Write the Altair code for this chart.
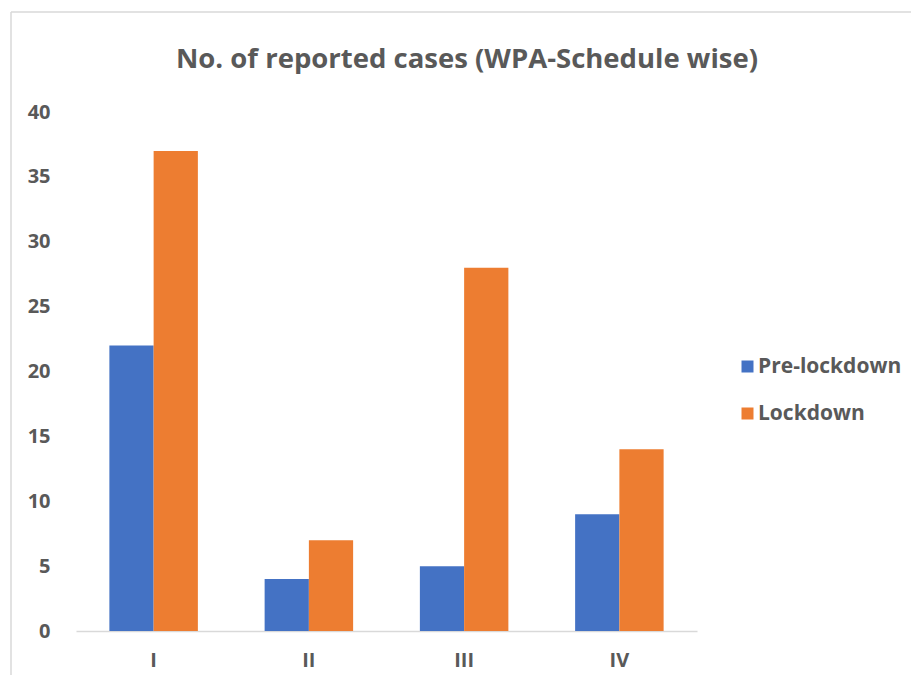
import altair as alt
import pandas as pd

categories = ["I", "II", "III", "IV"]
pre_lockdown = [22, 4, 5, 9]
lockdown = [37, 7, 28, 14]
series_names = ["Pre-lockdown", "Lockdown"]
colors = ["#4472C4", "#ED7D31"]
title_text = "No. of reported cases (WPA-Schedule wise)"

rows = []
for c, a, b in zip(categories, pre_lockdown, lockdown):
    rows.append({"schedule": c, "period": series_names[0], "cases": a})
    rows.append({"schedule": c, "period": series_names[1], "cases": b})
df = pd.DataFrame(rows)

W, H = 621, 519
FONT = "Open Sans"
GREY = "#595959"

bars = alt.Chart(df).mark_bar().encode(
    x=alt.X("schedule:N", sort=categories, title=None,
            scale=alt.Scale(paddingInner=0.43, paddingOuter=0.215),
            axis=alt.Axis(labelAngle=0, ticks=False, domainColor="#d9d9d9", domainWidth=1.5,
                          labelFontSize=20, labelFont=FONT, labelFontWeight="bold",
                          labelColor=GREY, labelPadding=19)),
    xOffset=alt.XOffset("period:N", sort=series_names),
    y=alt.Y("cases:Q", title=None,
            scale=alt.Scale(domain=[0, 40], nice=False),
            axis=alt.Axis(values=[0, 5, 10, 15, 20, 25, 30, 35, 40], grid=False, ticks=False,
                          domain=False, labelFontSize=20, labelFont=FONT, labelFontWeight="bold",
                          labelColor=GREY, labelPadding=26)),
    color=alt.Color("period:N", sort=series_names,
                    scale=alt.Scale(domain=series_names, range=colors),
                    legend=alt.Legend(title=None, orient="none", legendX=661, legendY=244,
                                      symbolType="square", symbolSize=144, symbolStrokeWidth=0,
                                      labelFontSize=21, labelFont=FONT, labelFontWeight="bold",
                                      labelColor=GREY, rowPadding=25, labelOffset=0)),
)

one = alt.Data(values=[{"t": title_text}])
left_border = alt.Chart(one).mark_rule(color="#d9d9d9", strokeWidth=1.5).encode(
    x=alt.value(-65), y=alt.value(-100), y2=alt.value(H + 44))
top_border = alt.Chart(one).mark_rule(color="#d9d9d9", strokeWidth=1.5).encode(
    y=alt.value(-100), x=alt.value(-65), x2=alt.value(W + 214))
title = alt.Chart(one).mark_text(font=FONT, fontSize=27.5, fontWeight="bold", color=GREY,
                                 align="center", baseline="middle").encode(
    text="t:N", x=alt.value(391), y=alt.value(-52))

chart = alt.layer(bars, left_border, top_border, title).properties(
    width=W, height=H,
    autosize=alt.AutoSizeParams(type="none"),
    padding={"left": 68, "top": 104, "right": 214, "bottom": 44},
).configure_view(stroke=None)

chart.save("out.html", embed_options={"renderer": "svg", "actions": False})
